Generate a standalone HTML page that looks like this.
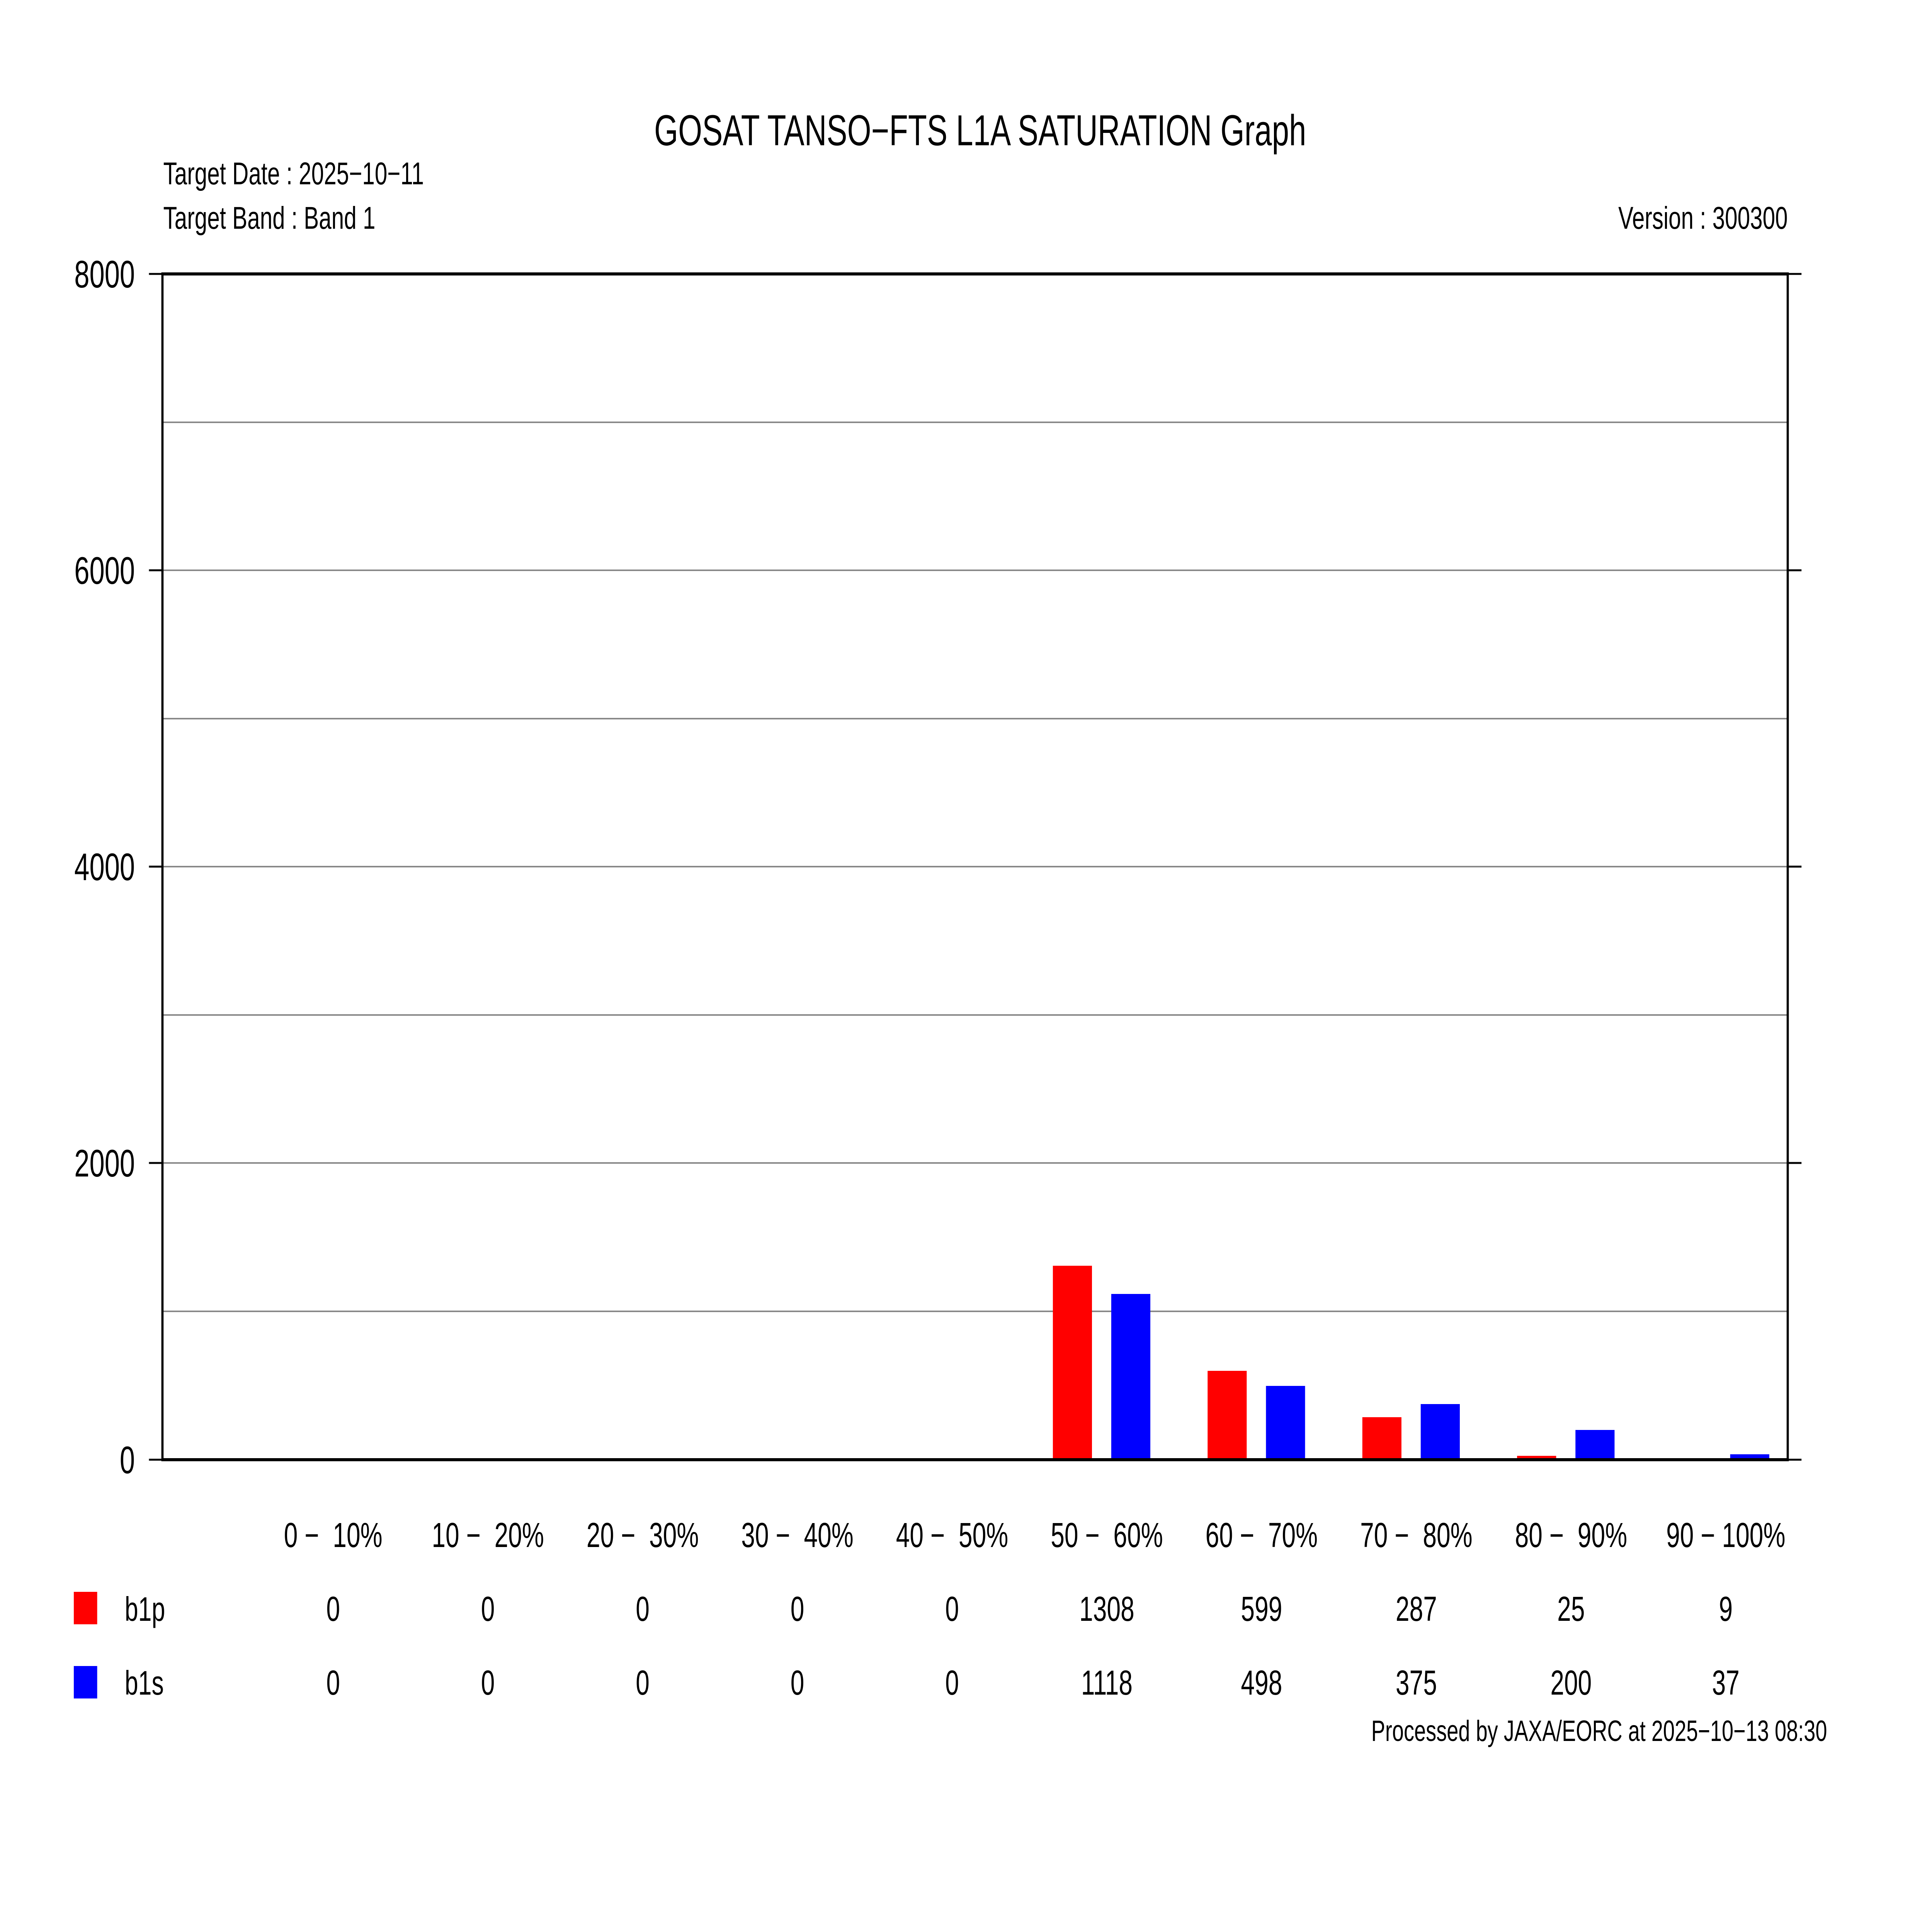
<!DOCTYPE html>
<html><head><meta charset="utf-8"><style>
html,body{margin:0;padding:0;background:#fff;width:100%;height:100%;overflow:hidden;}
svg{display:block;position:absolute;left:0;top:0;width:100vw;height:100vh;}
text{font-family:"Liberation Sans",sans-serif;fill:#000;white-space:pre;}
</style></head><body>
<svg viewBox="0 0 7017 4959" preserveAspectRatio="none" xmlns="http://www.w3.org/2000/svg">
<rect width="7017" height="4959" fill="#fff"/>
<text x="3560" y="376" font-size="112" text-anchor="middle">GOSAT TANSO−FTS L1A SATURATION Graph</text>
<text x="593" y="477" font-size="82">Target Date : 2025−10−11</text>
<text x="593" y="592" font-size="82">Target Band : Band 1</text>
<text x="6493" y="592" font-size="82" text-anchor="end">Version : 300300</text>
<g stroke="#888" stroke-width="4">
<line x1="590" x2="6493" y1="3394" y2="3394"/>
<line x1="590" x2="6493" y1="3010" y2="3010"/>
<line x1="590" x2="6493" y1="2627" y2="2627"/>
<line x1="590" x2="6493" y1="2243" y2="2243"/>
<line x1="590" x2="6493" y1="1860" y2="1860"/>
<line x1="590" x2="6493" y1="1476" y2="1476"/>
<line x1="590" x2="6493" y1="1093" y2="1093"/>
</g>
<g fill="#f00">
<rect x="3824" y="3276" width="142" height="502"/>
<rect x="4386" y="3548" width="142" height="230"/>
<rect x="4948" y="3668" width="142" height="110"/>
<rect x="5510" y="3768" width="142" height="10"/>
<rect x="6072" y="3774" width="142" height="4"/>
</g>
<g fill="#00f">
<rect x="4036" y="3349" width="142" height="429"/>
<rect x="4598" y="3587" width="142" height="191"/>
<rect x="5160" y="3634" width="142" height="144"/>
<rect x="5722" y="3701" width="142" height="77"/>
<rect x="6284" y="3764" width="142" height="14"/>
</g>
<g stroke="#000" stroke-width="8" fill="none">
<rect x="590" y="709" width="5903" height="3069"/>
</g>
<g stroke="#000" stroke-width="5">
<line x1="541" x2="590" y1="709" y2="709"/>
<line x1="541" x2="590" y1="1476" y2="1476"/>
<line x1="541" x2="590" y1="2243" y2="2243"/>
<line x1="541" x2="590" y1="3010" y2="3010"/>
<line x1="541" x2="590" y1="3778" y2="3778"/>
<line x1="6493" x2="6543" y1="709" y2="709"/>
<line x1="6493" x2="6543" y1="1476" y2="1476"/>
<line x1="6493" x2="6543" y1="2243" y2="2243"/>
<line x1="6493" x2="6543" y1="3010" y2="3010"/>
<line x1="6493" x2="6543" y1="3778" y2="3778"/>
</g>
<g font-size="99" text-anchor="end">
<text x="490" y="744">8000</text>
<text x="490" y="1511">6000</text>
<text x="490" y="2278">4000</text>
<text x="490" y="3045">2000</text>
<text x="490" y="3813">0</text>
</g>
<g font-size="90" text-anchor="middle">
<text x="1210" y="4004">0 −  10%</text>
<text x="1772" y="4004">10 −  20%</text>
<text x="2334" y="4004">20 −  30%</text>
<text x="2896" y="4004">30 −  40%</text>
<text x="3458" y="4004">40 −  50%</text>
<text x="4020" y="4004">50 −  60%</text>
<text x="4582" y="4004">60 −  70%</text>
<text x="5144" y="4004">70 −  80%</text>
<text x="5706" y="4004">80 −  90%</text>
<text x="6268" y="4004">90 − 100%</text>
</g>
<rect x="268" y="4120" width="85" height="84" fill="#f00"/>
<rect x="268" y="4312" width="85" height="84" fill="#00f"/>
<text x="453" y="4195" font-size="88">b1p</text>
<text x="453" y="4386" font-size="88">b1s</text>
<g font-size="90" text-anchor="middle">
<text x="1210" y="4195">0</text><text x="1772" y="4195">0</text><text x="2334" y="4195">0</text><text x="2896" y="4195">0</text><text x="3458" y="4195">0</text>
<text x="4020" y="4195">1308</text><text x="4582" y="4195">599</text><text x="5144" y="4195">287</text><text x="5706" y="4195">25</text><text x="6268" y="4195">9</text>
<text x="1210" y="4386">0</text><text x="1772" y="4386">0</text><text x="2334" y="4386">0</text><text x="2896" y="4386">0</text><text x="3458" y="4386">0</text>
<text x="4020" y="4386">1118</text><text x="4582" y="4386">498</text><text x="5144" y="4386">375</text><text x="5706" y="4386">200</text><text x="6268" y="4386">37</text>
</g>
<text x="6636" y="4506" font-size="76" text-anchor="end">Processed by JAXA/EORC at 2025−10−13 08:30</text>
</svg>
</body></html>
